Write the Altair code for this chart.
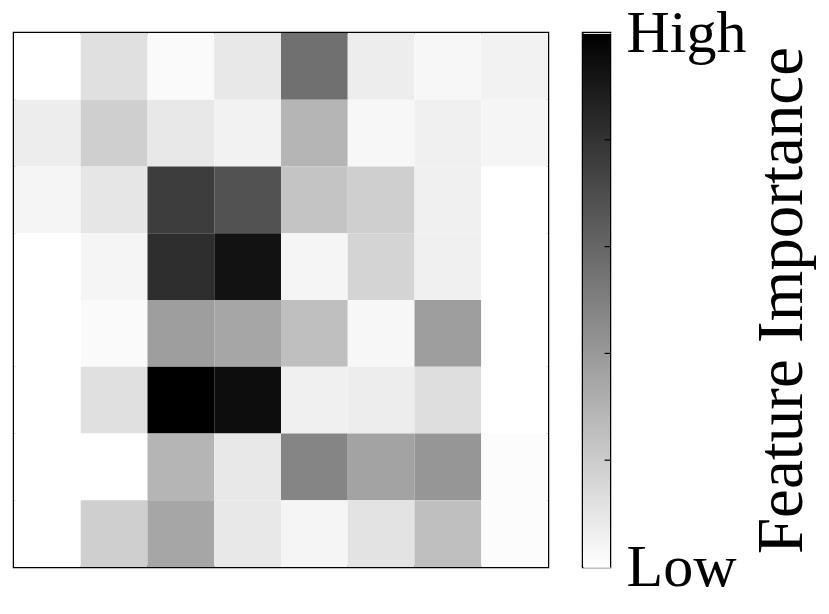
import altair as alt
import pandas as pd

# Feature importance grid (0 = low, 1 = high), rows top to bottom, cols left to right
row0 = [0.00, 0.12, 0.02, 0.09, 0.56, 0.07, 0.03, 0.05]
row1 = [0.07, 0.19, 0.09, 0.05, 0.29, 0.03, 0.06, 0.04]
row2 = [0.04, 0.10, 0.76, 0.68, 0.23, 0.19, 0.06, 0.00]
row3 = [0.00, 0.04, 0.82, 0.93, 0.04, 0.17, 0.06, 0.00]
row4 = [0.00, 0.02, 0.38, 0.35, 0.25, 0.03, 0.38, 0.00]
row5 = [0.00, 0.12, 1.00, 0.95, 0.06, 0.07, 0.13, 0.00]
row6 = [0.00, 0.00, 0.29, 0.09, 0.48, 0.36, 0.41, 0.01]
row7 = [0.00, 0.19, 0.35, 0.09, 0.04, 0.11, 0.25, 0.01]
rows = [row0, row1, row2, row3, row4, row5, row6, row7]

cbar_label_values = [0, 1]
cbar_minor_ticks = [0.2, 0.4, 0.6, 0.8]
cbar_low_label = "Low"
cbar_high_label = "High"
cbar_title = "Feature Importance"

records = []
for r, vals in enumerate(rows):
    for c, v in enumerate(vals):
        records.append({"row": r, "col": c, "imp": v})
df = pd.DataFrame(records)

FONT = "Liberation Serif"
FS = 60
TFS = 65

heat = alt.Chart(df).mark_rect().encode(
    x=alt.X("col:O", axis=None, scale=alt.Scale(paddingInner=0, paddingOuter=0)),
    y=alt.Y("row:O", axis=None, scale=alt.Scale(paddingInner=0, paddingOuter=0)),
    color=alt.Color("imp:Q", legend=None,
                    scale=alt.Scale(domain=[0, 1], range=["white", "black"], interpolate="rgb")),
).properties(width=534, height=534)

cb_df = pd.DataFrame({"lo": [0.0], "hi": [1.0]})
tick_df = pd.DataFrame({"t": cbar_minor_ticks})
grad = alt.Gradient(
    gradient="linear",
    stops=[alt.GradientStop(color="white", offset=0), alt.GradientStop(color="black", offset=1)],
    x1=0, y1=1, x2=0, y2=0,
)
xs = alt.Scale(domain=[0, 1], nice=False)
ys = alt.Scale(domain=[0, 1], nice=False)

bar = alt.Chart(cb_df).mark_rect(fill=grad).encode(
    x=alt.X("lo:Q", axis=None, scale=xs),
    x2="hi",
    y=alt.Y("lo:Q", scale=ys,
            axis=alt.Axis(
                orient="right", values=cbar_label_values, domain=False, ticks=False,
                labelExpr=f"datum.value == 1 ? '{cbar_high_label}' : '{cbar_low_label}'",
                labelFont=FONT, labelFontSize=FS, labelColor="black",
                labelPadding=16, labelBaseline="middle", labelFlush=False,
                labelOverlap=False, labelBound=False,
                title=cbar_title, titleFont=FONT, titleFontSize=TFS,
                titleFontWeight="normal", titleColor="black",
                titleAngle=270, titleBaseline="top", titlePadding=4, zindex=1,
            )),
    y2="hi",
)
ticks = alt.Chart(tick_df).mark_rule(color="black", strokeWidth=1.2).encode(
    y=alt.Y("t:Q", scale=ys),
    x=alt.datum(0.8, scale=xs),
    x2=alt.datum(1.0),
)
cbar = alt.layer(bar, ticks).properties(width=27, height=534)

chart = alt.hconcat(heat, cbar, spacing=31).properties(
    padding={"left": 4, "top": -7, "right": 0, "bottom": 0}
).configure(font=FONT).configure_view(stroke="black", strokeWidth=2.5)

chart.save("out.html", embed_options={"renderer": "svg", "actions": False})
